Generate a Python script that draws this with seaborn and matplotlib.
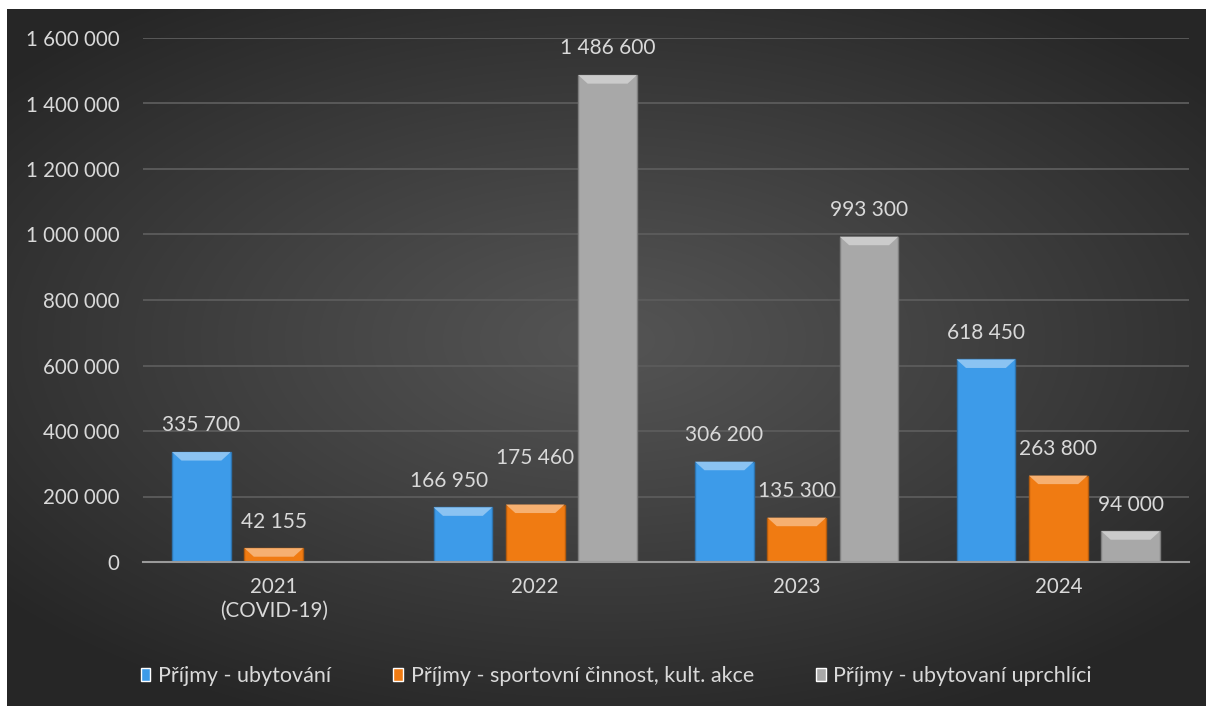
import numpy as np
import pandas as pd
import seaborn as sns
import matplotlib.pyplot as plt
from matplotlib.patches import Polygon

years = ["2021\n(COVID-19)", "2022", "2023", "2024"]
series = ["Příjmy - ubytování", "Příjmy - sportovní činnost, kult. akce", "Příjmy - ubytovaní uprchlíci"]
ubytovani = [335700, 166950, 306200, 618450]
sport_akce = [42155, 175460, 135300, 263800]
uprchlici = [np.nan, 1486600, 993300, 94000]
colors = ["#3d9be9", "#f07b12", "#a8a8a8"]
yticks = [0, 200000, 400000, 600000, 800000, 1000000, 1200000, 1400000, 1600000]

df = pd.DataFrame({
    "rok": years * 3,
    "serie": [s for s in series for _ in years],
    "hodnota": ubytovani + sport_akce + uprchlici,
})


def fmt(v):
    return f"{v:,.0f}".replace(",", " ")


sns.set_theme(style="dark")
plt.rcParams["font.family"] = ["Lato", "DejaVu Sans"]
txt = "#d9d9d9"

W, H = 1206, 706
fig = plt.figure(figsize=(W / 100, H / 100), dpi=100, facecolor="white")

# dark radial background (white strip top and left like the reference)
bg = fig.add_axes([7 / W, 0, 1 - 7 / W, (H - 9) / H], zorder=0)
gx, gy = np.meshgrid(np.linspace(-1, 1, 400), np.linspace(-1, 1, 240))
r = np.sqrt((gx * 0.95) ** 2 + ((gy + 0.05) * 1.05) ** 2)
r = np.clip(r / 1.25, 0, 1)
shade = 0.33 - 0.18 * r ** 1.1
bg.imshow(np.dstack([shade] * 3), aspect="auto", extent=[0, 1, 0, 1], interpolation="bicubic")
bg.axis("off")

ax = fig.add_axes([143 / W, (H - 562) / H, (1189 - 143) / W, (562 - 38) / H], zorder=1)
ax.set_facecolor("none")

sns.barplot(data=df, x="rok", y="hodnota", hue="serie", palette=colors,
            width=0.83, gap=0.19, ax=ax, legend=True, saturation=1)

# bevel-like highlight on top of each bar
for p in list(ax.patches):
    h = p.get_height()
    if not np.isfinite(h) or h <= 0 or p.get_width() == 0:
        continue
    x0, y0, w = p.get_x(), p.get_y(), p.get_width()
    fc = np.array(p.get_facecolor()[:3])
    p.set_edgecolor(tuple(fc * 0.75))
    p.set_linewidth(1.0)
    inset = w * 0.16
    dh = min(h, 26000)
    light = tuple(np.clip(fc + (1 - fc) * 0.4, 0, 1))
    ax.add_patch(Polygon([(x0, y0 + h), (x0 + w, y0 + h), (x0 + w - inset, y0 + h - dh),
                          (x0 + inset, y0 + h - dh)], closed=True, facecolor=light,
                         edgecolor="none", zorder=3))

all_labels = []
for cont in ax.containers:
    labels = ["" if not np.isfinite(v) else fmt(v) for v in cont.datavalues]
    all_labels.append(ax.bar_label(cont, labels=labels, padding=12, color=txt, fontsize=15))

# 2022: labels nudged apart like in the original
all_labels[0][1].xyann = (-10, 12)
all_labels[1][1].xyann = (0, 26.5)

ax.set_ylim(0, 1600000)
ax.set_yticks(yticks)
ax.set_yticklabels([fmt(v) for v in yticks])
ax.set_xlim(-0.5, 3.5)
ax.set_xlabel("")
ax.set_ylabel("")
ax.tick_params(axis="y", length=0, pad=17, labelcolor=txt, labelsize=14.8)
ax.tick_params(axis="x", length=0, pad=11, labelcolor=txt, labelsize=14.8)
ax.grid(axis="y", color="#5c5c5c", linewidth=1.3)
ax.grid(axis="x", visible=False)
ax.set_axisbelow(True)
for s in ["top", "right", "left"]:
    ax.spines[s].set_visible(False)
ax.spines["bottom"].set_color("#9a9a9a")
ax.spines["bottom"].set_linewidth(1.5)

handles, labs = ax.get_legend_handles_labels()
ax.legend_.remove()
fig.legend(handles, labs, loc="center", bbox_to_anchor=(0.511, (H - 676) / H), ncol=3,
           frameon=False, labelcolor=txt, fontsize=15.5, handlelength=0.45, handleheight=0.6,
           handletextpad=0.35, columnspacing=2.9)

fig.savefig("out.png", dpi=100, facecolor="white")
